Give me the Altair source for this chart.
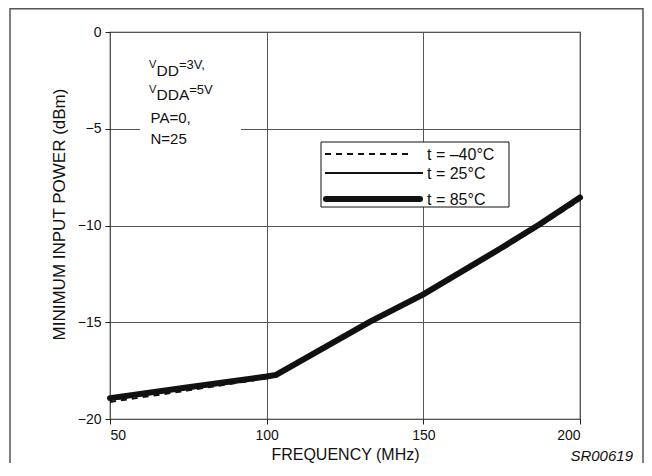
import altair as alt
import pandas as pd

# ---------------- data ----------------
freq = [50, 75, 100, 103, 133, 150, 175, 187, 200]
p_m40 = [-19.12, -18.52, -17.90, -17.80, -15.05, -13.62, -11.25, -10.05, -8.68]
p_25 = [-19.00, -18.42, -17.83, -17.75, -15.00, -13.59, -11.20, -10.00, -8.60]
p_85 = [-18.92, -18.36, -17.80, -17.72, -14.97, -13.56, -11.15, -9.95, -8.55]
series = ["t = \u201340\u00b0C", "t = 25\u00b0C", "t = 85\u00b0C"]

x_ticks = [50, 100, 150, 200]
y_ticks = [-20, -15, -10, -5, 0]

FONT = "Liberation Sans"

rows = []
for s, vals in zip(series, [p_m40, p_25, p_85]):
    for f, v in zip(freq, vals):
        rows.append({"freq": f, "power": v, "series": s})
df = pd.DataFrame(rows)

xs = alt.Scale(domain=[50, 200], nice=False, zero=False)
ys = alt.Scale(domain=[-20, 0], nice=False, zero=False)

X = alt.X("freq:Q", scale=xs,
          axis=alt.Axis(values=x_ticks, title="FREQUENCY (MHz)", grid=True,
                        titlePadding=4, labelPadding=4, titleFontSize=16))
Y = alt.Y("power:Q", scale=ys,
          axis=alt.Axis(values=y_ticks, title="MINIMUM INPUT POWER (dBm)", grid=True,
                        titlePadding=9, labelPadding=4, titleFontSize=17,
                        titleY=182))

styles = {
    series[0]: dict(strokeWidth=2, strokeDash=[6, 5], strokeCap="butt"),
    series[1]: dict(strokeWidth=2, strokeCap="butt"),
    series[2]: dict(strokeWidth=6, strokeCap="round"),
}

base = alt.Chart(df)
line_layers = []
for s in [series[2], series[1], series[0]]:
    line_layers.append(
        base.transform_filter(alt.datum.series == s)
        .mark_line(color="#111", **styles[s])
        .encode(x=X, y=Y)
    )

# white patch behind the annotation (breaks the -5 grid line)
ann_box = pd.DataFrame({"x1": [59.6], "x2": [91.8], "y1": [-4.0], "y2": [-6.0]})
box = alt.Chart(ann_box).mark_rect(fill="white").encode(
    x=alt.X("x1:Q", scale=xs), x2="x2:Q",
    y=alt.Y("y1:Q", scale=ys), y2="y2:Q")

# annotation text pieces (V with subscripts)
ann = pd.DataFrame({
    "x": [62.45, 64.84, 71.99, 62.45, 64.84, 75.28, 62.93, 62.93],
    "y": [-1.86, -2.27, -1.89, -3.15, -3.54, -3.18, -4.70, -5.81],
    "t": ["V", "DD", "=3V,", "V", "DDA", "=5V", "PA=0,", "N=25"],
    "s": [11, 15.5, 13, 11, 15.5, 13, 15, 15],
})
ann_text = alt.Chart(ann).mark_text(align="left", baseline="alphabetic", font=FONT,
                                    color="#111").encode(
    x=alt.X("x:Q", scale=xs), y=alt.Y("y:Q", scale=ys), text="t:N",
    size=alt.Size("s:Q", scale=None, legend=None))

# legend (drawn manually)
leg_box = alt.Chart(pd.DataFrame({"a": [0]})).mark_rect(
    fill="white", stroke="#111", strokeWidth=1).encode(
    x=alt.value(211), x2=alt.value(399), y=alt.value(110), y2=alt.value(175))
leg_rows_y = [122, 141, 167]
leg_layers = [leg_box]
for s, yy in zip(series, leg_rows_y):
    st = styles[s]
    leg_layers.append(
        alt.Chart(pd.DataFrame({"series": [s]})).mark_rule(color="#111", **st)
        .encode(x=alt.value(216 if s == series[2] else 215),
                x2=alt.value(310 if s == series[2] else (313 if s == series[1] else 303)),
                y=alt.value(yy)))
    leg_layers.append(
        alt.Chart(pd.DataFrame({"series": [s]})).mark_text(
            align="left", baseline="middle", font=FONT, fontSize=16, color="#111")
        .encode(x=alt.value(317), y=alt.value(yy + 1), text="series:N"))

# outer frame and figure code
frame = alt.Chart(pd.DataFrame({"a": [0]})).mark_rect(
    filled=False, stroke="#555", strokeWidth=1.5).encode(
    x=alt.value(-100), x2=alt.value(533), y=alt.value(-23.2), y2=alt.value(480))
code = alt.Chart(pd.DataFrame({"t": ["SR00619"]})).mark_text(
    align="right", baseline="alphabetic", font=FONT, fontSize=15, fontStyle="italic",
    color="#111").encode(x=alt.value(523), y=alt.value(429), text="t:N")

chart = alt.layer(box, *line_layers, ann_text, *leg_layers, frame, code).properties(
    width=470, height=387,
    autosize=alt.AutoSizeParams(type="none"),
    padding={"left": 102, "top": 24, "right": 64, "bottom": 44},
).configure_view(stroke="#222", strokeWidth=1.2).configure_axis(
    labelFont=FONT, titleFont=FONT, labelFontSize=14, titleFontSize=16,
    titleFontWeight="normal", labelColor="#111", titleColor="#111",
    gridColor="#555", gridWidth=1, gridOpacity=1, domain=False,
    tickColor="#222", tickSize=5, tickWidth=1,
)

chart.save("out.html", embed_options={"renderer": "svg", "actions": False})
